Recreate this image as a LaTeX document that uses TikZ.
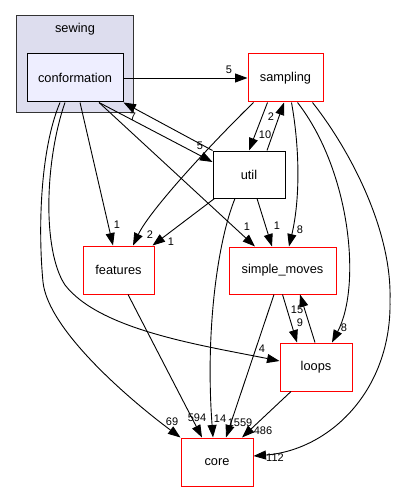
\documentclass[tikz,border=0pt]{standalone}
\usepackage{fontspec}
\setmainfont{Liberation Sans}
\usepackage{tikz}
\usetikzlibrary{arrows.meta}

\definecolor{clusterfill}{HTML}{DDDDEE}
\definecolor{clusterline}{HTML}{333333}
\definecolor{conffill}{HTML}{EEEEFF}

\begin{document}
\begin{tikzpicture}[x=1pt,y=-1pt,
  clusterbox/.style={draw=clusterline,fill=clusterfill,line width=1pt,inner sep=0pt},
  dirbox/.style={draw=red,fill=white,line width=1pt,inner sep=0pt,minimum height=48pt,font=\fontsize{12.8}{15}\selectfont},
  dirname/.style={inner sep=0pt,font=\fontsize{12.8}{15}\selectfont},
  dep/.style={draw,line width=0.9pt,-{Triangle[length=12.5pt,width=9pt]}},
  cnt/.style={inner sep=0pt,font=\fontsize{11}{13}\selectfont}]
  \useasboundingbox (0,0) rectangle (403,492);
  % directories
  \node[clusterbox,minimum width=117pt,minimum height=97pt] (sewing) at (74.5,64.5) {};
  \node[dirname] (sewingtitle) at (75,29) {sewing};
  \node[dirbox,draw=black,fill=conffill,minimum width=96pt] (conformation) at (75,78) {conformation};
  \node[dirbox,minimum width=75pt] (sampling) at (285.5,78) {sampling};
  \node[dirbox,draw=black,minimum width=72pt,minimum height=47pt] (util) at (249,174.5) {util};
  \node[dirbox,minimum width=71pt] (features) at (118.5,270) {features};
  \node[dirbox,minimum width=107pt,minimum height=47pt] (simplemoves) at (282.5,270.5) {simple\_moves};
  \node[dirbox,minimum width=72pt] (loops) at (316,367) {loops};
  \node[dirbox,minimum width=72pt] (core) at (217,462) {core};
  % dependencies
  \draw[dep] (conformation.east) -- (sampling.west);
  \draw[dep] ([xshift=-15pt]conformation.south) .. controls (40,150) and (38,230) .. (43,282)
    .. controls (48,330) and (130,400) .. (core.north west);
  \draw[dep] ([xshift=-10pt]conformation.south) .. controls (45,160) and (42,250) .. (65,285)
    .. controls (100,330) and (200,345) .. ([yshift=6pt]loops.west);
  \draw[dep] ([xshift=5pt]conformation.south) -- ([xshift=-5.5pt]features.north);
  \draw[dep] ([xshift=24pt]conformation.south) -- ([xshift=-27.5pt]simplemoves.north);
  \draw[dep] ([xshift=24pt]conformation.south) -- ([yshift=12.5pt]util.west);
  \draw[dep] (util.north west) -- (conformation.south east);
  \draw[dep] ([xshift=-18pt]sampling.south) -- (util.north);
  \draw[dep] ([xshift=18pt]util.north) -- ([xshift=-1.5pt]sampling.south);
  \draw[dep] ([xshift=-32pt]sampling.south) .. controls (210,145) and (150,210) .. ([xshift=14.5pt]features.north);
  \draw[dep] ([xshift=2pt]util.south west) -- ([xshift=-2pt]features.north east);
  \draw[dep] ([xshift=8pt]util.south) -- ([xshift=-10.5pt]simplemoves.north);
  \draw[dep] ([xshift=-14pt]util.south) .. controls (218,240) and (205,330) .. ([xshift=-4pt]core.north);
  \draw[dep] ([xshift=6pt]sampling.south) .. controls (300,150) and (300,200) .. ([xshift=6.5pt]simplemoves.north);
  \draw[dep] ([xshift=12pt]sampling.south) .. controls (350,170) and (362,285) .. ([xshift=16pt]loops.north);
  \draw[dep] ([xshift=27pt]sampling.south) .. controls (350,150) and (392,230) .. (390,300)
    .. controls (392,390) and (330,450) .. ([yshift=6pt]core.east);
  \draw[dep] ([xshift=9.5pt]features.south) -- ([xshift=-15pt]core.north);
  \draw[dep] (simplemoves.south) -- ([xshift=-19pt]loops.north);
  \draw[dep] ([xshift=-1pt]loops.north) -- ([xshift=17.5pt]simplemoves.south);
  \draw[dep] ([xshift=-8.5pt]simplemoves.south) -- ([xshift=9pt]core.north);
  \draw[dep] ([xshift=-25pt]loops.south) -- ([xshift=25pt]core.north);
  % counts
  \node[cnt] (cs) at (229,70) {5};
  \node[cnt] (cc) at (172,422) {69};
  \node[cnt] (cl) at (262,349) {4};
  \node[cnt] (cf) at (117,225) {1};
  \node[cnt] (cm) at (247,227) {1};
  \node[cnt] (cu) at (200,146) {5};
  \node[cnt] (uc) at (133,117) {7};
  \node[cnt] (su) at (265,135) {10};
  \node[cnt] (us) at (271,117) {2};
  \node[cnt] (sf) at (150,235) {2};
  \node[cnt] (uf) at (171,242) {1};
  \node[cnt] (um) at (277,226) {1};
  \node[cnt] (sm) at (300,230) {8};
  \node[cnt] (sl) at (344,328) {8};
  \node[cnt] (sc) at (275,458) {112};
  \node[cnt] (fc) at (197,418) {594};
  \node[cnt] (uco) at (220,419) {14};
  \node[cnt] (mc) at (240,423) {1559};
  \node[cnt] (lc) at (263,431) {486};
  \node[cnt] (lm) at (297,310) {15};
  \node[cnt] (ml) at (300,323) {9};
\end{tikzpicture}
\end{document}
